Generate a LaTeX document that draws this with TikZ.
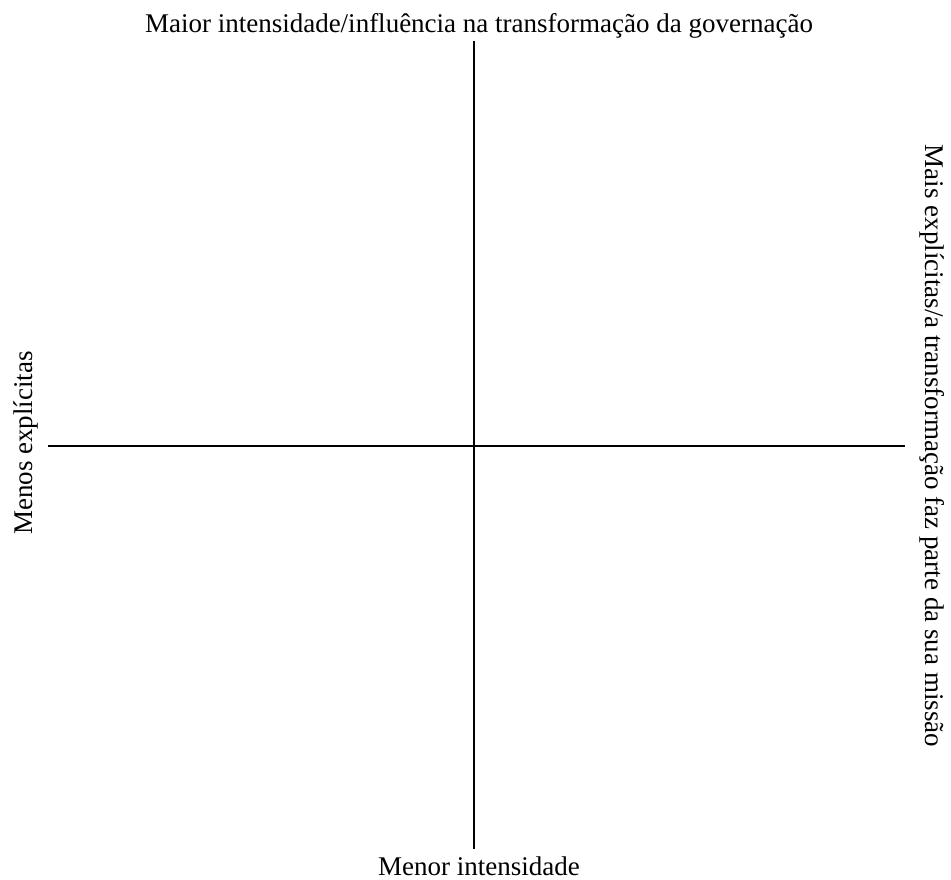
\documentclass[tikz,border=0pt]{standalone}
\usepackage{fontspec}
\setmainfont{Liberation Serif}
\begin{document}
\begin{tikzpicture}[x=1pt,y=-1pt,
  lbl/.style={inner sep=0pt,anchor=base,font=\fontsize{27}{32}\selectfont},
  axis/.style={line width=1.3pt,black}]
\useasboundingbox (0,0) rectangle (951,880);
\node[lbl] (top) at (479,33) {Maior intensidade/influência na transformação da governação};
\node[lbl] (bot) at (479,875) {Menor intensidade};
\node[lbl,rotate=90] (left) at (32,443) {Menos explícitas};
\node[lbl,rotate=-90] (right) at (925,446) {Mais explícitas/a transformação faz parte da sua missão};
\coordinate (vt) at (474,41);
\coordinate (vb) at (474,849);
\coordinate (hl) at (48,446);
\coordinate (hr) at (905,446);
\draw[axis] (vt) -- (vb);
\draw[axis] (hl) -- (hr);
\end{tikzpicture}
\end{document}
